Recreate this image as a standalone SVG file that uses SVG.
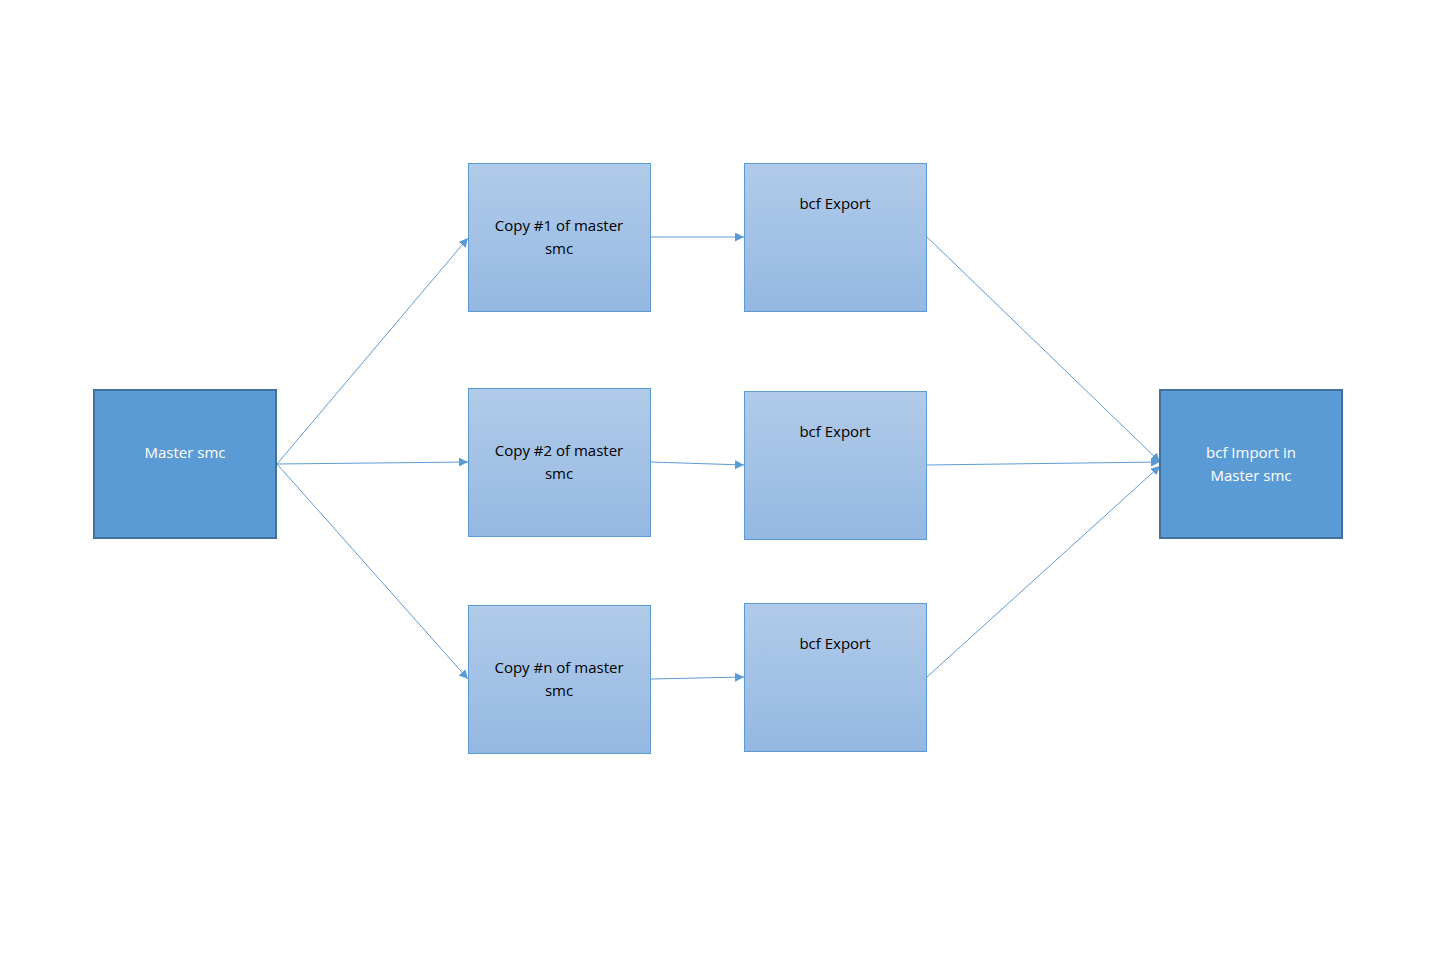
<svg xmlns="http://www.w3.org/2000/svg" width="1432" height="956" viewBox="0 0 1432 956">
<style>
.dark{fill:#5b9bd5;stroke:#41719c;stroke-width:2}
.light{fill:url(#g);stroke:#5b9bd5;stroke-width:1}
text{font-family:"Open Sans","Liberation Sans",sans-serif;font-size:15px;text-anchor:middle}
.w{fill:#fff}.k{fill:#000}
.c line{stroke:#5b9bd5;stroke-width:1;marker-end:url(#a)}
</style>
<defs>
<linearGradient id="g" x1="0" y1="0" x2="0" y2="1"><stop offset="0" stop-color="#b1cbe9"/><stop offset="1" stop-color="#94b8e2"/></linearGradient>
<marker id="a" viewBox="0 0 10 10" refX="10" refY="5" markerWidth="9" markerHeight="9" markerUnits="userSpaceOnUse" orient="auto"><path d="M0,0L10,5L0,10z" fill="#5b9bd5"/></marker>
</defs>
<rect width="1432" height="956" fill="#fff"/>
<g class="c">
<line x1="277" y1="464" x2="468" y2="238"/>
<line x1="277" y1="464" x2="468" y2="462"/>
<line x1="277" y1="464" x2="468" y2="679"/>
<line x1="651" y1="237" x2="744" y2="237"/>
<line x1="651" y1="462" x2="744" y2="465"/>
<line x1="651" y1="679" x2="744" y2="677"/>
<line x1="927" y1="237" x2="1160" y2="462"/>
<line x1="927" y1="465" x2="1160" y2="462"/>
<line x1="927" y1="677" x2="1160" y2="466"/>
</g>
<g id="master"><rect class="dark" x="94" y="390" width="182" height="148"/><text class="w" x="185" y="458">Master smc</text></g>
<g id="copy1"><rect class="light" x="468.5" y="163.5" width="182" height="148"/><text class="k" x="559" y="231">Copy #1 of master</text><text class="k" x="559" y="254">smc</text></g>
<g id="copy2"><rect class="light" x="468.5" y="388.5" width="182" height="148"/><text class="k" x="559" y="456">Copy #2 of master</text><text class="k" x="559" y="479">smc</text></g>
<g id="copyn"><rect class="light" x="468.5" y="605.5" width="182" height="148"/><text class="k" x="559" y="673">Copy #n of master</text><text class="k" x="559" y="696">smc</text></g>
<g id="bcf1"><rect class="light" x="744.5" y="163.5" width="182" height="148"/><text class="k" x="835" y="209">bcf Export</text></g>
<g id="bcf2"><rect class="light" x="744.5" y="391.5" width="182" height="148"/><text class="k" x="835" y="437">bcf Export</text></g>
<g id="bcfn"><rect class="light" x="744.5" y="603.5" width="182" height="148"/><text class="k" x="835" y="649">bcf Export</text></g>
<g id="import"><rect class="dark" x="1160" y="390" width="182" height="148"/><text class="w" x="1251" y="458">bcf Import in</text><text class="w" x="1251" y="481">Master smc</text></g>
</svg>
